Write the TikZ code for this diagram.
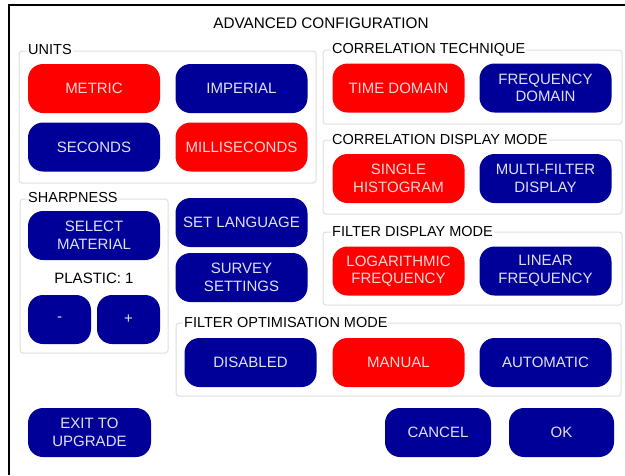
\documentclass[tikz,border=0pt]{standalone}
\usepackage{fontspec}
\setmainfont{Liberation Sans}
\definecolor{btnblue}{RGB}{0,0,153}
\definecolor{btnred}{RGB}{255,0,0}
\definecolor{bluetext}{RGB}{225,225,245}
\definecolor{redtext}{RGB}{255,215,215}
\definecolor{boxgray}{RGB}{222,222,222}
\tikzset{
  btn/.style={rounded corners=15pt, minimum height=49pt, minimum width=132pt,
    inner sep=0pt, align=center, font=\fontsize{15}{17.5}\selectfont},
  offbtn/.style={btn, fill=btnblue, text=bluetext},
  onbtn/.style={btn, fill=btnred, text=redtext},
  grp/.style={draw=boxgray, rounded corners=3pt, line width=1pt},
  grplabel/.style={fill=white, inner sep=1pt, anchor=west, font=\fontsize{14.5}{17}\selectfont}
}
\begin{document}
\begin{tikzpicture}[x=1pt,y=-1pt]
  \useasboundingbox (0,0) rectangle (625,475);
  \fill[white] (0,0) rectangle (625,475);
  \draw[line width=1.5pt] (9,475) -- (9,5) -- (625,5);

  \node[font=\fontsize{15.3}{17}\selectfont] (title) at (321,23) {ADVANCED CONFIGURATION};

  \draw[grp] (19,51) rectangle (316,183);
  \draw[grp] (323,50) rectangle (622,124);
  \draw[grp] (323,140) rectangle (622,214);
  \draw[grp] (323,232) rectangle (622,305);
  \draw[grp] (20,199) rectangle (168,353);
  \draw[grp] (176,323) rectangle (621,396);

  \begin{scope}[every node/.style={grplabel}]
    \node (units)   at (27,50)  {UNITS};
    \node (corrtec) at (331,50) {CORRELATION TECHNIQUE};
    \node (corrdsp) at (331,140) {CORRELATION DISPLAY MODE};
    \node (filtdsp) at (331,232) {FILTER DISPLAY MODE};
    \node (sharp)   at (27,198) {SHARPNESS};
    \node (filtopt) at (183,323) {FILTER OPTIMISATION MODE};
  \end{scope}

  \node[onbtn]  (metric)   at (94,88.5)    {METRIC};
  \node[offbtn] (imperial) at (241.5,88.5) {IMPERIAL};
  \node[offbtn] (seconds)  at (94,147)     {SECONDS};
  \node[onbtn]  (millisec) at (241.5,147)  {MILLISECONDS};

  \node[onbtn]  (timedom)  at (398.5,88)   {TIME DOMAIN};
  \node[offbtn] (freqdom)  at (545.5,88)   {FREQUENCY\\DOMAIN};
  \node[onbtn]  (singlehist) at (398.5,178.5) {SINGLE\\HISTOGRAM};
  \node[offbtn] (multifilt)  at (545.5,178.5) {MULTI-FILTER\\DISPLAY};
  \node[onbtn]  (logfreq)  at (398.5,271)  {LOGARITHMIC\\FREQUENCY};
  \node[offbtn] (linfreq)  at (545.5,271)  {LINEAR\\FREQUENCY};

  \node[offbtn] (material) at (94,235.5)   {SELECT\\MATERIAL};
  \node[font=\fontsize{15}{17}\selectfont] (plastic) at (94,278) {PLASTIC: 1};
  \node[offbtn, minimum width=63pt] (minus) at (59.5,319.5)  {-};
  \node[offbtn, minimum width=63pt] (plus)  at (128.5,319.5) {+};
  \node[offbtn] (language) at (241.5,222.5) {SET LANGUAGE};
  \node[offbtn] (survey)   at (241.5,277.5) {SURVEY\\SETTINGS};

  \node[offbtn] (disabled)  at (250.5,362.5) {DISABLED};
  \node[onbtn]  (manual)    at (398.5,362.5) {MANUAL};
  \node[offbtn] (automatic) at (545.5,362.5) {AUTOMATIC};

  \node[offbtn, minimum width=123pt] (exit)   at (89.5,432.5)  {EXIT TO\\UPGRADE};
  \node[offbtn, minimum width=106pt] (cancel) at (438,432.5)   {CANCEL};
  \node[offbtn, minimum width=105pt] (ok)     at (561.5,432.5) {OK};

\end{tikzpicture}
\end{document}
